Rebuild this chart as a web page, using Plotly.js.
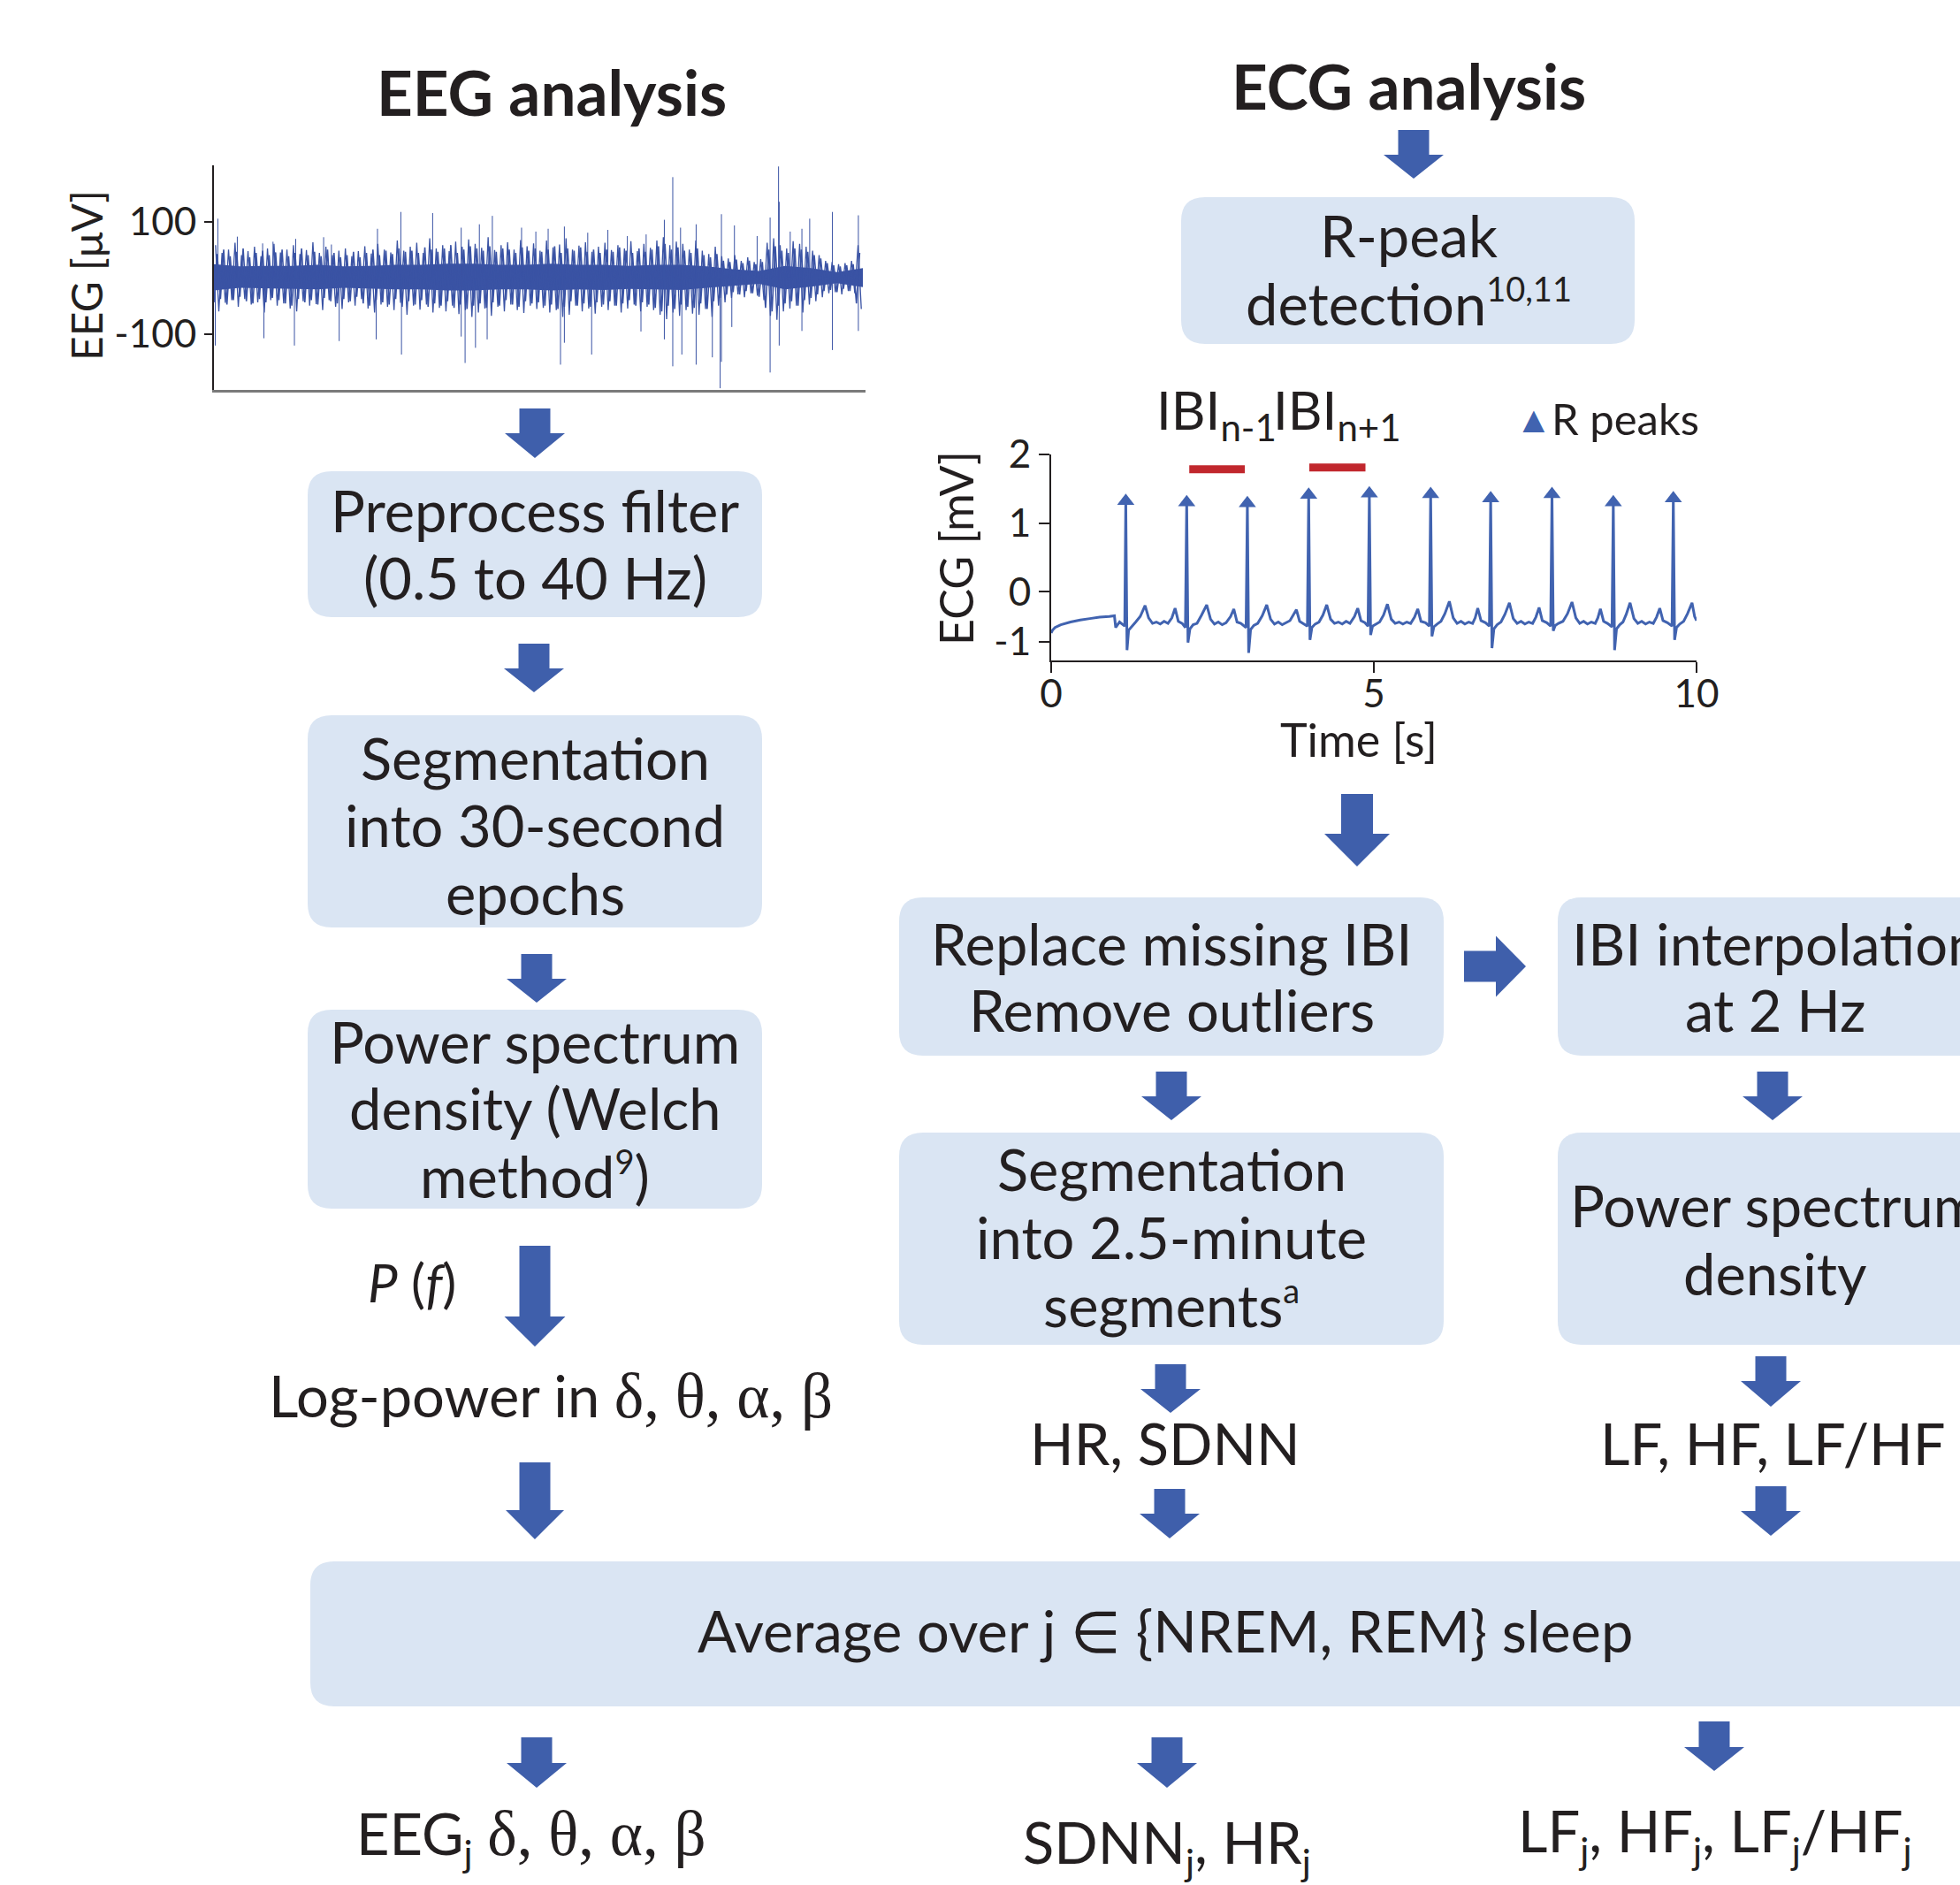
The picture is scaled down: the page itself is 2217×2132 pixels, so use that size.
<!DOCTYPE html>
<html><head><meta charset="utf-8">
<script src="https://cdn.plot.ly/plotly-3.0.1.min.js"></script>
<style>html,body{margin:0;padding:0;background:#fff}</style>
</head><body><div id="chart" style="width:2217px;height:2132px"></div>
<script>
// ---------------- EEG data (percent of record, µV) ----------------
const eegCoreT  = [0,4,8,12,16,20,24,28,32,36,40,44,48,52,56,60,64,68,72,76,80,84,88,92,96,100];
const eegCoreUp = [24,20,21,21,23,20,21,23,23,25,25,23,23,25,23,23,21,23,23,20,15,12,21,17,10,17];
const eegCoreLo = [-23,-18,-20,-20,-21,-18,-20,-21,-21,-23,-23,-21,-21,-23,-21,-22,-20,-21,-22,-18,-14,-11,-21,-16,-10,-17];
const eegFringeUp = [58,44,50,62,40,47,55,38,52,60, 45,50,58,42,49,63,44,55,40,48,
  52,38,47,56,43,60,50,45,66,48, 55,62,44,70,52,58,47,64,55,68,
  60,53,72,49,58,63,50,67,56,61, 48,66,54,59,70,50,57,63,46,55,
  62,49,58,52,65,47,60,53,66,72, 58,64,60,50,66,48,42,55,38,34,
  40,30,36,28,33,62,70,58,52,65, 60,55,48,40,30,28,24,26,30,58];
const eegFringeLo = [-60,-45,-40,-52,-38,-48,-44,-62,-40,-50, -46,-55,-60,-42,-50,-47,-58,-40,-52,-56,
  -44,-50,-38,-55,-62,-48,-52,-58,-45,-66, -50,-57,-48,-62,-54,-60,-50,-65,-58,-70,
  -62,-55,-68,-52,-60,-48,-58,-63,-50,-56, -54,-62,-58,-70,-66,-50,-60,-55,-64,-52,
  -58,-50,-62,-55,-48,-60,-52,-58,-66,-74, -62,-68,-58,-64,-66,-56,-70,-50,-44,-36,
  -30,-35,-28,-32,-40,-68,-75,-60,-55,-50, -62,-48,-42,-35,-28,-26,-30,-24,-28,-56];
const eegFringe2Up = [42,50,38,46,52,36,44,48,40,45, 50,38,44,52,40,46,38,50,44,36,
  40,46,36,44,50,40,48,42,52,46, 48,44,54,50,46,52,58,44,50,56,
  52,48,56,46,52,50,44,54,48,52, 46,50,56,44,52,48,54,46,50,44,
  50,46,54,48,44,52,46,50,56,60, 50,54,48,44,52,40,36,42,30,28,
  32,26,30,24,28,50,56,48,44,52, 50,46,40,34,26,22,20,22,24,44];
const eegFringe2Lo = [-44,-38,-48,-40,-34,-42,-46,-38,-44,-36, -40,-46,-50,-38,-44,-40,-48,-36,-42,-46,
  -38,-42,-34,-46,-50,-40,-44,-48,-38,-52, -42,-48,-40,-52,-46,-50,-42,-54,-48,-56,
  -50,-46,-54,-44,-50,-40,-48,-52,-42,-46, -44,-50,-48,-56,-52,-42,-50,-46,-52,-44,
  -48,-42,-50,-46,-40,-50,-44,-48,-54,-60, -50,-56,-48,-52,-54,-46,-56,-42,-36,-30,
  -26,-30,-24,-28,-34,-54,-60,-50,-46,-42, -50,-40,-36,-30,-24,-22,-26,-20,-24,-46];
const eegSpikeT = [0.6,3.6,7.5,9.1,12.6,16.9,18.1,25.2,28.8,33.7,38.1,40.9,42.9,47.4,49.6,51.5,54.0,57.6,60.7,63.7,66.6,69.4,70.7,71.9,74.3,78.2,80.2,83.7,85.7,87.0,87.1,88.8,90.6,91.8,95.3,99.3,
  0.2,7.7,12.4,19.3,25.0,28.9,38.1,38.7,40.3,42.1,53.4,54.0,58.2,65.8,69.4,70.7,72.1,74.3,76.8,78.0,78.2,79.8,85.7,87.1,90.6,95.3,99.3];
const eegSpikeV = [105,73,61,64,69,72,59,87,117,115,89,95,110,89,82,87,91,80,85,74,77,103,179,89,95,113,93,74,107,198,135,82,87,105,117,111,
  -121,-108,-121,-113,-110,-137,-105,-152,-125,-110,-155,-116,-137,-96,-110,-158,-137,-155,-142,-197,-150,-88,-169,-121,-95,-129,-95];
const eegTickVals = [-100, 100];
const eegTickText = ['-100', '100'];

// ---------------- ECG data (s, mV) ----------------
const ecgTime = [0.00,0.02,0.06,0.15,0.30,0.45,0.60,0.75,0.90,0.98,1.00,1.03,1.06,1.10,1.14,
 1.156,1.175,1.20,1.25,1.31,1.38,1.455,1.51,1.57,1.63,1.69,1.75,1.81,1.87,1.92,1.97,2.03,2.08,
 2.10,2.12,2.15,2.20,2.26,2.33,2.41,2.47,2.53,2.59,2.65,2.71,2.78,2.83,2.88,2.94,3.02,
 3.04,3.06,3.09,3.14,3.20,3.27,3.34,3.40,3.46,3.52,3.58,3.64,3.70,3.75,3.80,3.85,3.91,3.97,
 3.99,4.01,4.04,4.09,4.15,4.21,4.27,4.33,4.39,4.45,4.51,4.57,4.63,4.70,4.75,4.80,4.86,4.91,
 4.93,4.95,4.98,5.03,5.09,5.15,5.21,5.27,5.33,5.39,5.45,5.51,5.57,5.63,5.68,5.73,5.80,5.86,
 5.88,5.90,5.93,5.98,6.04,6.10,6.17,6.23,6.29,6.35,6.41,6.47,6.53,6.57,6.61,6.66,6.73,6.79,
 6.81,6.83,6.86,6.91,6.97,7.03,7.10,7.16,7.22,7.28,7.34,7.40,7.46,7.51,7.56,7.61,7.68,7.74,
 7.76,7.78,7.81,7.86,7.93,8.00,8.07,8.13,8.19,8.25,8.31,8.37,8.43,8.47,8.51,8.56,8.62,8.69,
 8.71,8.73,8.76,8.81,8.86,8.91,8.97,9.03,9.09,9.15,9.21,9.27,9.33,9.38,9.43,9.48,9.55,9.62,
 9.64,9.66,9.69,9.74,9.80,9.86,9.93,9.97,10.00];
const ecgValue = [-0.60,-0.56,-0.52,-0.48,-0.44,-0.41,-0.39,-0.37,-0.36,-0.35,-0.52,-0.48,-0.44,-0.47,-0.50,
 1.32,-0.85,-0.56,-0.50,-0.44,-0.36,-0.20,-0.38,-0.46,-0.44,-0.47,-0.43,-0.46,-0.38,-0.24,-0.43,-0.46,-0.52,
 1.30,-0.74,-0.54,-0.48,-0.46,-0.34,-0.19,-0.40,-0.47,-0.44,-0.48,-0.45,-0.36,-0.25,-0.44,-0.46,-0.52,
 1.29,-0.89,-0.55,-0.49,-0.46,-0.35,-0.19,-0.40,-0.47,-0.44,-0.48,-0.45,-0.42,-0.34,-0.26,-0.43,-0.46,-0.50,
 1.41,-0.70,-0.52,-0.47,-0.44,-0.34,-0.19,-0.40,-0.46,-0.44,-0.47,-0.43,-0.46,-0.36,-0.24,-0.42,-0.45,-0.50,
 1.43,-0.63,-0.50,-0.47,-0.44,-0.34,-0.18,-0.40,-0.46,-0.44,-0.47,-0.44,-0.46,-0.37,-0.25,-0.43,-0.45,-0.50,
 1.42,-0.65,-0.51,-0.47,-0.43,-0.32,-0.14,-0.38,-0.46,-0.43,-0.47,-0.44,-0.46,-0.38,-0.24,-0.42,-0.45,-0.50,
 1.36,-0.82,-0.54,-0.48,-0.44,-0.33,-0.16,-0.39,-0.46,-0.43,-0.47,-0.44,-0.46,-0.37,-0.23,-0.42,-0.45,-0.50,
 1.42,-0.57,-0.49,-0.46,-0.43,-0.32,-0.15,-0.38,-0.46,-0.43,-0.47,-0.44,-0.46,-0.38,-0.25,-0.43,-0.46,-0.51,
 1.30,-0.85,-0.54,-0.48,-0.44,-0.33,-0.16,-0.39,-0.46,-0.43,-0.47,-0.44,-0.46,-0.37,-0.24,-0.42,-0.45,-0.50,
 1.36,-0.70,-0.52,-0.47,-0.43,-0.32,-0.16,-0.36,-0.42];
const rPeakTime  = [1.156,2.10,3.04,3.99,4.93,5.88,6.81,7.76,8.71,9.64];
const rPeakValue = [1.32,1.30,1.29,1.41,1.43,1.42,1.36,1.42,1.30,1.36];
const ibiStart = [2.14, 4.00];
const ibiEnd   = [3.00, 4.87];
const ibiLevel = [1.785, 1.81];
const ecgTickVals = [-0.73, 0, 1, 2];
const ecgTickText = ['-1', '0', '1', '2'];
const ecgXTicks = [0, 5, 10];

// ---------------- helpers ----------------
const W = 2217, H = 2132;
const FONT = 'Lato, "Open Sans", sans-serif';
const INK = '#231f20';
const BLUE = '#3f5fab';
const ECGBLUE = '#4163b0';
const BOX = '#dae5f3';
const px = x => x / W;
const py = y => 1 - y / H;
const P = (x, y) => px(x).toFixed(5) + ',' + py(y).toFixed(5);

function roundRect(x0, y0, x1, y1, r) {
  return {type:'path', xref:'paper', yref:'paper', layer:'below', fillcolor:BOX, line:{width:0},
    path:'M' + P(x0+r,y0) + ' L' + P(x1-r,y0) + ' Q' + P(x1,y0) + ' ' + P(x1,y0+r) +
      ' L' + P(x1,y1-r) + ' Q' + P(x1,y1) + ' ' + P(x1-r,y1) + ' L' + P(x0+r,y1) +
      ' Q' + P(x0,y1) + ' ' + P(x0,y1-r) + ' L' + P(x0,y0+r) + ' Q' + P(x0,y0) + ' ' + P(x0+r,y0) + ' Z'};
}
function downArrow(cx, top, hs, tip, sw, hw) {
  sw = sw || 35; hw = hw || 68;
  return {type:'path', xref:'paper', yref:'paper', fillcolor:BLUE, line:{width:0},
    path:'M' + P(cx-sw/2,top) + ' L' + P(cx+sw/2,top) + ' L' + P(cx+sw/2,hs) + ' L' + P(cx+hw/2,hs) +
      ' L' + P(cx,tip) + ' L' + P(cx-hw/2,hs) + ' L' + P(cx-sw/2,hs) + ' Z'};
}
function rightArrow(left, cy, hs, tip, sh, hh) {
  return {type:'path', xref:'paper', yref:'paper', fillcolor:BLUE, line:{width:0},
    path:'M' + P(left,cy-sh/2) + ' L' + P(hs,cy-sh/2) + ' L' + P(hs,cy-hh/2) + ' L' + P(tip,cy) +
      ' L' + P(hs,cy+hh/2) + ' L' + P(hs,cy+sh/2) + ' L' + P(left,cy+sh/2) + ' Z'};
}
function txt(text, cx, base, fs, extra) {
  const a = {text:text, x:px(cx), y:py(base - 0.38*fs), xref:'paper', yref:'paper',
    xanchor:'center', yanchor:'middle', showarrow:false,
    font:{family:FONT, size:fs, color:INK}};
  return Object.assign(a, extra || {});
}
const G = s => '<span style="font-family:Liberation Serif;font-size:71px">' + s + '</span>';
const SUP = s => '<sup><span style="font-size:38px">' + s + '</span></sup>';
const SUB = s => '<sub><span style="font-size:42px">' + s + '</span></sub>';

// ---------------- traces ----------------
const zigX = [], zigY = [];
eegFringeUp.forEach((v, k) => { zigX.push(k + 0.25, k + 0.75); zigY.push(v, eegFringeLo[k]); });
const zig2X = [], zig2Y = [];
eegFringe2Up.forEach((v, k) => { zig2X.push(k, k + 0.5); zig2Y.push(eegFringe2Lo[k], v); });
const spX = [], spY = [];
eegSpikeT.forEach((t, i) => { spX.push(t, t, null); spY.push(0, eegSpikeV[i], null); });
const ibiX = [], ibiY = [];
ibiStart.forEach((s, i) => { ibiX.push(s, ibiEnd[i], null); ibiY.push(ibiLevel[i], ibiLevel[i], null); });

const EEGC = '#3a53a4';
const traces = [
  {type:'scatter', mode:'lines', x:eegCoreT.concat(eegCoreT.slice().reverse()),
   y:eegCoreUp.concat(eegCoreLo.slice().reverse()), fill:'toself', fillcolor:EEGC,
   line:{width:0, color:EEGC}, hoverinfo:'skip', showlegend:false, xaxis:'x', yaxis:'y'},
  {type:'scatter', mode:'lines', x:zig2X, y:zig2Y, line:{width:1.6, color:EEGC},
   hoverinfo:'skip', showlegend:false, xaxis:'x', yaxis:'y'},
  {type:'scatter', mode:'lines', x:zigX, y:zigY, line:{width:1.3, color:EEGC},
   hoverinfo:'skip', showlegend:false, xaxis:'x', yaxis:'y'},
  {type:'scatter', mode:'lines', x:spX, y:spY, line:{width:1, color:EEGC},
   hoverinfo:'skip', showlegend:false, xaxis:'x', yaxis:'y'},
  {type:'scatter', mode:'lines', x:ecgTime, y:ecgValue, line:{width:3, color:ECGBLUE},
   showlegend:false, xaxis:'x2', yaxis:'y2', name:'ECG'},
  {type:'scatter', mode:'lines', x:ibiX, y:ibiY, line:{width:9, color:'#c1272d'},
   showlegend:false, xaxis:'x2', yaxis:'y2', name:'IBI'},
  {type:'scatter', mode:'markers', x:rPeakTime, y:rPeakValue, name:'R peaks',
   marker:{symbol:'triangle-up', size:17, color:ECGBLUE}, showlegend:false, xaxis:'x2', yaxis:'y2'}
];

// ---------------- layout ----------------
const shapes = [
  roundRect(348, 533, 862, 698, 27),
  roundRect(348, 809, 862, 1049, 27),
  roundRect(348, 1142, 862, 1367, 27),
  roundRect(1336, 223, 1849, 389, 27),
  roundRect(1017, 1015, 1633, 1194, 27),
  roundRect(1762, 1015, 2262, 1194, 27),
  roundRect(1017, 1281, 1633, 1521, 27),
  roundRect(1762, 1281, 2262, 1521, 27),
  roundRect(351, 1766, 2262, 1930, 27),
  downArrow(1599, 147, 175, 202),
  downArrow(605, 462, 490, 518),
  downArrow(604, 728, 756, 783),
  downArrow(607, 1079, 1107, 1134),
  downArrow(605, 1409, 1489, 1523, 35, 69),
  downArrow(605, 1654, 1708, 1741, 35, 66),
  downArrow(607, 1965, 1994, 2022),
  downArrow(1535, 898, 943, 980, 36, 74),
  rightArrow(1656, 1093, 1692, 1726, 35, 69),
  downArrow(1325, 1212, 1240, 1267),
  downArrow(2005, 1212, 1240, 1267),
  downArrow(1324, 1543, 1571, 1598),
  downArrow(2003, 1534, 1562, 1591),
  downArrow(1323, 1684, 1712, 1740),
  downArrow(2003, 1681, 1709, 1737),
  downArrow(1320, 1965, 1994, 2022),
  downArrow(1939, 1947, 1976, 2003)
];

const FS = 65;
const annotations = [
  txt('<b>EEG analysis</b>', 624, 130, 71),
  txt('<b>ECG analysis</b>', 1593, 123, 71),
  txt('R-peak', 1593, 291, FS),
  txt('detection' + SUP('10,11'), 1593, 367, FS),
  txt('Preprocess filter', 605, 602, FS),
  txt('(0.5 to 40 Hz)', 605, 678, FS),
  txt('Segmentation', 605, 882, FS),
  txt('into 30-second', 605, 958, FS),
  txt('epochs', 605, 1035, FS),
  txt('Power spectrum', 605, 1203, FS),
  txt('density (Welch', 605, 1278, FS),
  txt('method' + SUP('9') + ')', 605, 1354, FS),
  txt('<i>P</i> (<i>f</i>)', 466, 1473, 60),
  txt('Log-power in ' + G('δ, θ, α, β'), 623, 1603, FS),
  txt('Replace missing IBI', 1325, 1092, FS),
  txt('Remove outliers', 1325, 1167, FS),
  txt('IBI interpolation', 2008, 1092, FS),
  txt('at 2 Hz', 2008, 1167, FS),
  txt('Segmentation', 1325, 1347, FS),
  txt('into 2.5-minute', 1325, 1424, FS),
  txt('segments' + SUP('a'), 1325, 1500, FS),
  txt('Power spectrum', 2008, 1388, FS),
  txt('density', 2008, 1465, FS),
  txt('HR, SDNN', 1318, 1657, FS),
  txt('LF, HF, LF/HF', 2006, 1657, FS),
  txt('Average over j ∈ {NREM, REM} sleep', 1318, 1869, FS),
  txt('EEG' + SUB('j') + ' ' + G('δ, θ, α, β'), 601, 2102, FS),
  txt('SDNN' + SUB('j') + ', HR' + SUB('j'), 1320, 2112, FS),
  txt('LF' + SUB('j') + ', HF' + SUB('j') + ', LF' + SUB('j') + '/HF' + SUB('j'), 1940, 2099, FS),
  txt('IBI<sub>n-1</sub>', 1376, 490, 60),
  txt('IBI<sub>n+1</sub>', 1512, 490, 60),
  txt('<span style="color:' + ECGBLUE + '">▲</span>', 1735, 489, 42),
  Object.assign(txt('R peaks', 1753, 492, 49), {xanchor:'left'}),
  txt('EEG [μV]', 97, 312 + 0.38*48, 48, {textangle:-90}),
  txt('ECG [mV]', 1081, 620 + 0.38*52, 52, {textangle:-90}),
  txt('Time [s]', 1537, 856, 52)
];

const layout = {
  width: W, height: H, margin:{l:0, r:0, t:0, b:0},
  paper_bgcolor:'#fff', plot_bgcolor:'rgba(0,0,0,0)',
  font:{family:FONT, color:INK},
  showlegend:false,
  xaxis:{domain:[px(242), px(979)], anchor:'y', range:[0, 100.4], showgrid:false, zeroline:false,
    showline:true, linecolor:'#7a7a7a', linewidth:3, ticks:'', showticklabels:false, fixedrange:true},
  yaxis:{domain:[py(441), py(187)], anchor:'x', range:[-200, 200], showgrid:false, zeroline:false,
    showline:true, linecolor:INK, linewidth:2, ticks:'outside', ticklen:9, tickwidth:2, tickcolor:INK,
    tickvals:eegTickVals, ticktext:eegTickText, tickfont:{family:FONT, size:44, color:INK}, fixedrange:true},
  xaxis2:{domain:[px(1189), px(1919)], anchor:'y2', range:[0, 10], showgrid:false, zeroline:false,
    showline:true, linecolor:INK, linewidth:2, ticks:'outside', ticklen:12, tickwidth:2, tickcolor:INK,
    ticklabelstandoff:-14,
    tickvals:ecgXTicks, tickfont:{family:FONT, size:44, color:INK}, fixedrange:true},
  yaxis2:{domain:[py(747), py(514)], anchor:'x2', range:[-1, 2], showgrid:false, zeroline:false,
    showline:true, linecolor:INK, linewidth:2, ticks:'outside', ticklen:12, tickwidth:2, tickcolor:INK,
    tickvals:ecgTickVals, ticktext:ecgTickText, tickfont:{family:FONT, size:44, color:INK}, fixedrange:true},
  shapes: shapes,
  annotations: annotations
};

Plotly.newPlot('chart', traces, layout, {displayModeBar:false, staticPlot:true});
</script>
</body></html>
